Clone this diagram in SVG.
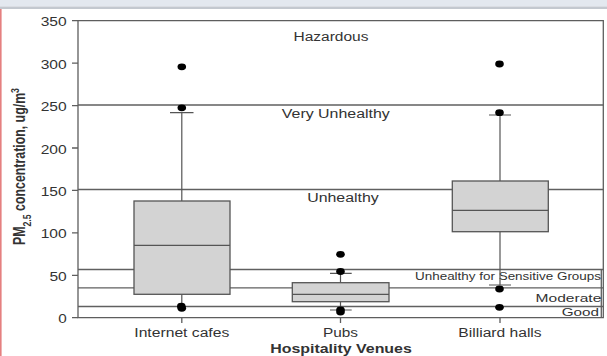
<svg xmlns="http://www.w3.org/2000/svg" width="607" height="356" viewBox="0 0 607 356">
<style>
.t{font-family:"Liberation Sans",Arial,sans-serif;font-size:12px;fill:#333}
.b{font-weight:bold}
.ax{stroke:#5e5e5e;stroke-width:1.3;fill:none}
.ln{stroke:#606060;stroke-width:1.3;fill:none}
.bx{fill:#d3d3d3;stroke:#555;stroke-width:1.3}
.wk{stroke:#555;stroke-width:1.2;fill:none}
.dt{fill:#000}
</style>
<rect x="0" y="0" width="607" height="356" fill="#fff"/>
<rect x="0" y="0" width="607" height="6.5" fill="#e3e8ef"/>
<rect x="0" y="6.5" width="607" height="2.5" fill="#c3c8cf"/>
<rect x="0" y="9" width="1.6" height="347" fill="#e58080"/>

<g id="axes">
  <path class="ax" d="M78 20.7V317.7H603.3V20.7H78"/>
  <path class="ax" d="M72 20.7H78M72 63.1H78M72 105.6H78M72 148H78M72 190.4H78M72 232.8H78M72 275.3H78M72 317.7H78"/>
  <path class="ax" d="M181.8 317.7V323M340.5 317.7V323M500 317.7V323"/>
  <g class="t" text-anchor="end">
    <text x="66.7" y="26.2" textLength="26" lengthAdjust="spacingAndGlyphs">350</text>
    <text x="66.7" y="68.6" textLength="26" lengthAdjust="spacingAndGlyphs">300</text>
    <text x="66.7" y="111.1" textLength="26" lengthAdjust="spacingAndGlyphs">250</text>
    <text x="66.7" y="153.5" textLength="26" lengthAdjust="spacingAndGlyphs">200</text>
    <text x="66.7" y="195.9" textLength="26" lengthAdjust="spacingAndGlyphs">150</text>
    <text x="66.7" y="238.3" textLength="26" lengthAdjust="spacingAndGlyphs">100</text>
    <text x="66.7" y="280.8" textLength="17.3" lengthAdjust="spacingAndGlyphs">50</text>
    <text x="66.7" y="323.2" textLength="8.5" lengthAdjust="spacingAndGlyphs">0</text>
  </g>
  <text class="t b" transform="translate(24.5,245) scale(1.3,1) rotate(-90)" x="0" y="0" font-size="12.5" textLength="157" lengthAdjust="spacingAndGlyphs">PM<tspan font-size="8.5" baseline-shift="sub">2.5</tspan> concentration, ug/m<tspan font-size="8.5" baseline-shift="super">3</tspan></text>
  <g class="t" text-anchor="middle">
    <text x="181.8" y="336.7" textLength="95" lengthAdjust="spacingAndGlyphs">Internet cafes</text>
    <text x="340.5" y="336.7" textLength="35" lengthAdjust="spacingAndGlyphs">Pubs</text>
    <text x="500" y="336.7" textLength="83.3" lengthAdjust="spacingAndGlyphs">Billiard halls</text>
  </g>
  <text class="t b" x="341" y="353.3" text-anchor="middle" textLength="141.7" lengthAdjust="spacingAndGlyphs">Hospitality Venues</text>
</g>

<g id="aqi-bands">
  <path class="ln" d="M78 105H603.3M78 189.5H603.3M78 269.5H603.3M78 287.9H603.3M78 306.5H603.3M601.3 269.5V317.7"/>
  <g class="t">
    <text x="331" y="40.7" text-anchor="middle" textLength="75" lengthAdjust="spacingAndGlyphs">Hazardous</text>
    <text x="335.8" y="118.3" text-anchor="middle" textLength="108" lengthAdjust="spacingAndGlyphs">Very Unhealthy</text>
    <text x="343" y="201.7" text-anchor="middle" textLength="71.7" lengthAdjust="spacingAndGlyphs">Unhealthy</text>
    <text x="601" y="280" text-anchor="end" font-size="10" textLength="186" lengthAdjust="spacingAndGlyphs">Unhealthy for Sensitive Groups</text>
    <text x="601.3" y="301.5" text-anchor="end" font-size="11.5" textLength="65.7" lengthAdjust="spacingAndGlyphs">Moderate</text>
    <text x="599" y="315.5" text-anchor="end" font-size="11" textLength="37.3" lengthAdjust="spacingAndGlyphs">Good</text>
  </g>
</g>

<g id="internet-cafes">
  <path class="wk" d="M181.8 112.7V201M170 112.7H193.5M181.8 294.3V307"/>
  <rect class="bx" x="134" y="201" width="96" height="93.3"/>
  <path class="wk" d="M134 245.3H230"/>
  <ellipse class="dt" cx="181.8" cy="66.8" rx="4.3" ry="3.4"/>
  <ellipse class="dt" cx="181.8" cy="107.8" rx="4.3" ry="3.4"/>
  <ellipse class="dt" cx="181.3" cy="306.2" rx="4.3" ry="3.4"/>
  <ellipse class="dt" cx="181.8" cy="308.3" rx="4.3" ry="3.4"/>
</g>

<g id="pubs">
  <path class="wk" d="M340.5 273.3V282.7M330 273.3H351.7M340.5 301.7V310M330 310H351.7"/>
  <rect class="bx" x="292.3" y="282.7" width="96.7" height="19"/>
  <path class="wk" d="M292.3 294.3H389"/>
  <ellipse class="dt" cx="340.5" cy="254.3" rx="4.3" ry="3.4"/>
  <ellipse class="dt" cx="340.5" cy="271.5" rx="4.3" ry="3.4"/>
  <ellipse class="dt" cx="340.5" cy="309.8" rx="4.3" ry="3.4"/>
  <ellipse class="dt" cx="340.5" cy="312" rx="4.3" ry="3.4"/>
</g>

<g id="billiard-halls">
  <path class="wk" d="M500 115V181M489 115H511M500 231.7V285M489 285H511"/>
  <rect class="bx" x="452.3" y="181" width="96" height="50.7"/>
  <path class="wk" d="M452.3 210.3H548.3"/>
  <ellipse class="dt" cx="499.5" cy="64" rx="4.3" ry="3.4"/>
  <ellipse class="dt" cx="499.5" cy="112.7" rx="4.3" ry="3.4"/>
  <ellipse class="dt" cx="499.5" cy="289" rx="4.3" ry="3.4"/>
  <ellipse class="dt" cx="499.5" cy="307.3" rx="4.3" ry="3.4"/>
</g>
</svg>
